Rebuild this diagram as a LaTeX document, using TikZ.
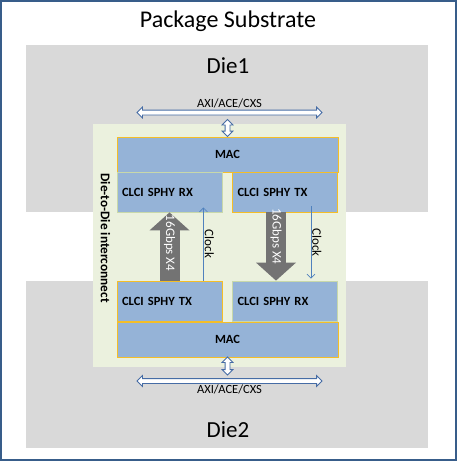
\documentclass[tikz,border=0pt]{standalone}
\usepackage{fontspec}
\setmainfont{Carlito}
\usepackage{tikz}
\usetikzlibrary{arrows.meta}
\usetikzlibrary{shapes.arrows}
\usetikzlibrary{positioning}
\usepackage{color}
\definecolor{frame_blue}{RGB}{56, 93, 138}
\definecolor{die_gray}{RGB}{217, 217, 217}
\definecolor{light_green}{RGB}{235, 241, 222}
\definecolor{box_blue}{RGB}{149, 179, 215}
\definecolor{gold}{RGB}{244, 190, 40}
\definecolor{pale_green}{RGB}{200, 216, 170}
\definecolor{clock_blue}{RGB}{79, 129, 189}
\definecolor{bus_blue}{RGB}{70, 108, 165}
\definecolor{lane_gray}{RGB}{115, 115, 115}

\tikzset{
    block/.style={shape=rectangle, fill=box_blue, draw=gold, line width=0.8pt, inner sep=0pt, font=\fontsize{12.5}{14}\selectfont\bfseries},
    phy/.style={block, text width=95pt, inner xsep=5pt, minimum height=40pt, align=left},
    bus/.style={shape=double arrow, draw=bus_blue, fill=white, line width=0.8pt, inner sep=2pt, double arrow head extend=3pt, double arrow tip angle=90},
    lane/.style={draw=lane_gray, line width=20pt, -{Triangle[width=40pt, length=18pt, line width=0pt]}},
    clock/.style={draw=clock_blue, line width=0.7pt, -{Straight Barb[length=4pt, width=8pt]}},
    vtext/.style={rotate=-90, font=\fontsize{13}{15}\selectfont, inner sep=1pt}
}

\begin{document}
\begin{tikzpicture}[x=1pt, y=-1pt]
    \useasboundingbox (0,0) rectangle (457,461);
    \draw[draw=frame_blue, line width=1.8pt] (0.9,0.9) rectangle (455.6,459.6);
    \fill[die_gray] (26,45) rectangle (428,212);
    \fill[die_gray] (26,281) rectangle (428,448);
    \fill[light_green] (93,124) rectangle (346,367);

        \node[font=\fontsize{24}{28}\selectfont] (title) at (228,21) {Package Substrate};
        \node[font=\fontsize{23}{27}\selectfont] (die1) at (228,66) {Die1};
        \node[font=\fontsize{23}{27}\selectfont] (die2) at (228,430) {Die2};
        \node[vtext, font=\fontsize{13.3}{15}\selectfont\bfseries] (d2d) at (105.5,238) {Die-to-Die interconnect};

        \node[block, minimum width=221pt, minimum height=35pt] (mac1) at (227.5,154.5) {MAC};
        \node[phy, draw=pale_green] (rx1) at (169.5,192) {CLCI SPHY RX};
        \node[phy] (tx1) at (285,192) {CLCI SPHY TX};
        \node[phy] (tx2) at (169.5,301) {CLCI SPHY TX};
        \node[phy, draw=pale_green] (rx2) at (285,301) {CLCI SPHY RX};
        \node[block, minimum width=221pt, minimum height=35pt] (mac2) at (227.5,339.5) {MAC};

        \node[bus, minimum height=185pt] (axi1) at (229.5,112.5) {};
        \node[above=0pt of axi1, inner sep=1pt, font=\fontsize{12.5}{14}\selectfont] (axi1_label) {AXI/ACE/CXS};
        \node[bus, shape border rotate=90, minimum height=17pt] (link1) at (227.5,128) {};
        \node[bus, shape border rotate=90, minimum height=18pt] (link2) at (227.5,366) {};
        \node[bus, minimum height=185pt] (axi2) at (229.5,381) {};
        \node[below=0pt of axi2, inner sep=1pt, font=\fontsize{12.5}{14}\selectfont] (axi2_label) {AXI/ACE/CXS};

        \draw [lane](tx2.north) -- (rx1.south) node[pos=0.55, vtext, text=white] {16Gbps X4};
        \draw [lane]([xshift=-9pt]tx1.south) -- ([xshift=-9pt]rx2.north) node[pos=0.35, vtext, text=white] {16Gbps X4};

        \draw [clock]([xshift=-19pt]tx2.north east) -- ([xshift=-19pt, yshift=5pt]rx1.south east) node[midway, vtext, anchor=south] {Clock};
        \draw [clock]([xshift=-27pt, yshift=6pt]tx1.south east) -- ([xshift=-27pt, yshift=2pt]rx2.north east) node[midway, vtext, anchor=south] {Clock};

\end{tikzpicture}
\end{document}
